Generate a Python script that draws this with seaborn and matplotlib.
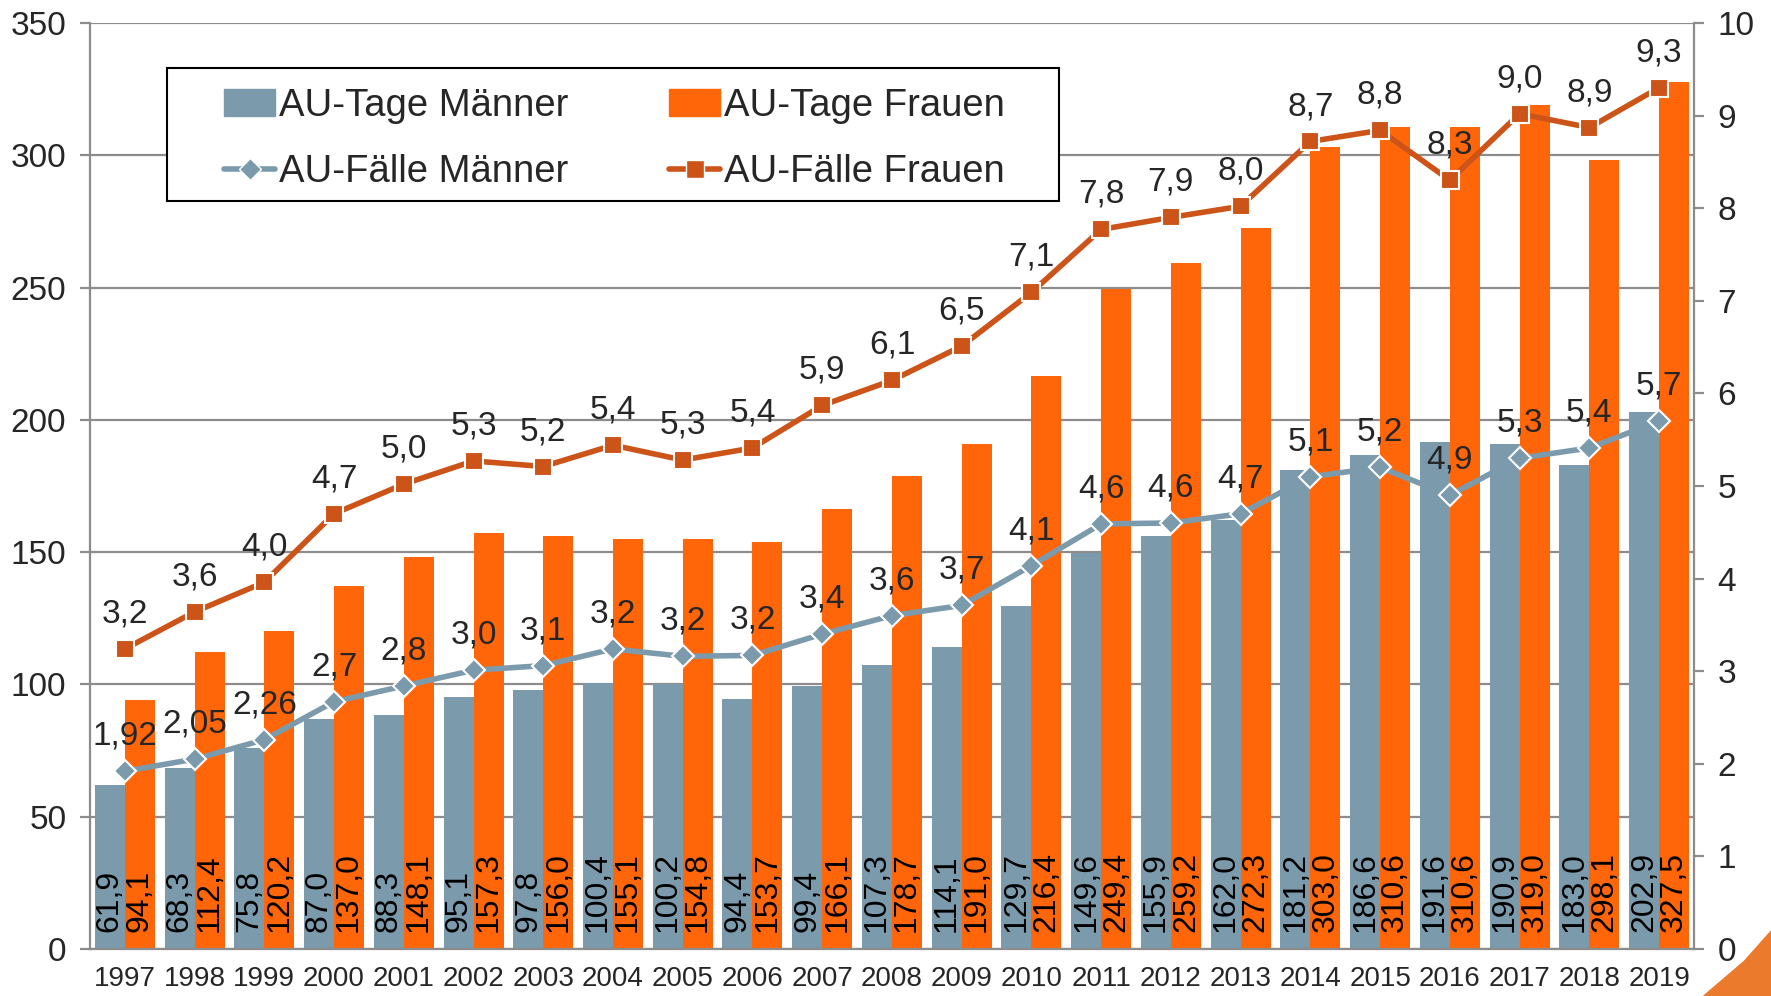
import matplotlib
matplotlib.use('Agg')
import matplotlib.pyplot as plt
from matplotlib.patches import Polygon, Rectangle
from matplotlib.lines import Line2D
import seaborn as sns
import pandas as pd
import numpy as np

# Daten
jahre = [str(j) for j in range(1997, 2020)]
tage_maenner = [61.9, 68.3, 75.8, 87.0, 88.3, 95.1, 97.8, 100.4, 100.2, 94.4, 99.4, 107.3,
                114.1, 129.7, 149.6, 155.9, 162.0, 181.2, 186.6, 191.6, 190.9, 183.0, 202.9]
tage_frauen = [94.1, 112.4, 120.2, 137.0, 148.1, 157.3, 156.0, 155.1, 154.8, 153.7, 166.1, 178.7,
               191.0, 216.4, 249.4, 259.2, 272.3, 303.0, 310.6, 310.6, 319.0, 298.1, 327.5]
faelle_maenner = [1.92, 2.05, 2.26, 2.67, 2.84, 3.01, 3.06, 3.24, 3.16, 3.17, 3.40, 3.60,
                  3.71, 4.14, 4.59, 4.60, 4.70, 5.10, 5.20, 4.90, 5.30, 5.41, 5.70]
faelle_frauen = [3.24, 3.64, 3.96, 4.70, 5.02, 5.27, 5.21, 5.44, 5.28, 5.41, 5.87, 6.14,
                 6.51, 7.09, 7.77, 7.90, 8.02, 8.72, 8.84, 8.30, 9.02, 8.87, 9.30]

grau = '#7B9AAB'
orange = '#FF660A'
orange_linie = '#CC5418'
achse = '#8C8C8C'

sns.set_theme(style='white')
plt.rcParams['font.family'] = ['Liberation Sans', 'DejaVu Sans']

def fmt(v, d=1):
    return f'{v:.{d}f}'.replace('.', ',')

df = pd.DataFrame({
    'Jahr': jahre * 2,
    'Tage': tage_maenner + tage_frauen,
    'Gruppe': ['AU-Tage Männer'] * len(jahre) + ['AU-Tage Frauen'] * len(jahre),
})

fig = plt.figure(figsize=(17.71, 9.96), dpi=100)
ax = fig.add_axes([0.0508, 0.0472, 0.9057, 0.9298])

sns.barplot(data=df, x='Jahr', y='Tage', hue='Gruppe', palette=[grau, orange],
            width=0.86, linewidth=0, saturation=1, ax=ax, legend=False)

# Werte in den Balken
for cont in ax.containers:
    for bar in cont:
        ax.annotate(fmt(bar.get_height()), (bar.get_x() + bar.get_width() / 2, 0),
                    xytext=(0, 12), textcoords='offset points', rotation=90,
                    ha='center', va='bottom', fontsize=23, color='black')

ax.set_xlim(-0.5, len(jahre) - 0.5)
ax.set_ylim(0, 350)
ax.set_yticks(range(0, 351, 50))
ax.set_xlabel('')
ax.set_ylabel('')
ax.yaxis.grid(True, color=achse, lw=1.6)
ax.set_axisbelow(True)
ax.set_xticks(np.arange(len(jahre) + 1) - 0.5, minor=True)
ax.tick_params(axis='x', which='major', length=0, labelsize=20, pad=12)
ax.tick_params(axis='x', which='minor', length=9, width=1.6, color=achse)
ax.tick_params(axis='y', length=7, width=1.6, color=achse, labelsize=24, pad=10)
for s in ['top', 'right']:
    ax.spines[s].set_visible(False)
for s in ['left', 'bottom']:
    ax.spines[s].set_color(achse)
    ax.spines[s].set_linewidth(1.6)

# zweite Achse: AU-Fälle
ax2 = ax.twinx()
x = np.arange(len(jahre))
sns.lineplot(x=x, y=faelle_maenner, ax=ax2, color=grau, lw=4, marker='D', markersize=11,
             markeredgecolor='white', markeredgewidth=1.5)
sns.lineplot(x=x, y=faelle_frauen, ax=ax2, color=orange_linie, lw=4, marker='s', markersize=13,
             markeredgecolor='white', markeredgewidth=1.5)
for i in range(len(jahre)):
    ax2.annotate(fmt(faelle_maenner[i], 2 if i < 3 else 1), (x[i], faelle_maenner[i]),
                 xytext=(0, 14), textcoords='offset points', ha='center', va='bottom', fontsize=24)
    ax2.annotate(fmt(faelle_frauen[i]), (x[i], faelle_frauen[i]),
                 xytext=(0, 14), textcoords='offset points', ha='center', va='bottom', fontsize=24)
ax2.set_ylim(0, 10)
ax2.set_yticks(range(0, 11))
ax2.tick_params(axis='y', length=7, width=1.6, color=achse, labelsize=24, pad=10)
for s in ['top', 'left', 'bottom']:
    ax2.spines[s].set_visible(False)
ax2.spines['right'].set_color(achse)
ax2.spines['right'].set_linewidth(1.6)
ax2.set_xlim(-0.5, len(jahre) - 0.5)

handles = [
    plt.Rectangle((0, 0), 1, 1, color=grau),
    Line2D([], [], color=grau, lw=4, marker='D', markersize=11, markeredgecolor='white'),
    plt.Rectangle((0, 0), 1, 1, color=orange),
    Line2D([], [], color=orange_linie, lw=4, marker='s', markersize=13, markeredgecolor='white'),
]
labels = ['AU-Tage Männer', 'AU-Fälle Männer', 'AU-Tage Frauen', 'AU-Fälle Frauen']
# Rahmen der Legende
ax2.add_patch(Rectangle((0.048, 0.808), 0.556, 0.143, transform=ax2.transAxes,
                        facecolor='white', edgecolor='black', lw=1.5, zorder=5))
leg = ax2.legend(handles, labels, ncol=2, loc='upper left', bbox_to_anchor=(0.0835, 0.93),
                 borderaxespad=0, borderpad=0, fontsize=27.5, frameon=False,
                 handlelength=1.35, handletextpad=0.1, columnspacing=2.62, labelspacing=0.8)
leg.set_zorder(6)

# Deko-Ecke unten rechts
fig.patches.append(Polygon([(0.962, 0.0), (0.985, 0.035), (1.0, 0.065), (1.0, 0.0)],
                           closed=True, transform=fig.transFigure, color='#EC7A2C', zorder=0))

fig.savefig('out.png', dpi=100)
